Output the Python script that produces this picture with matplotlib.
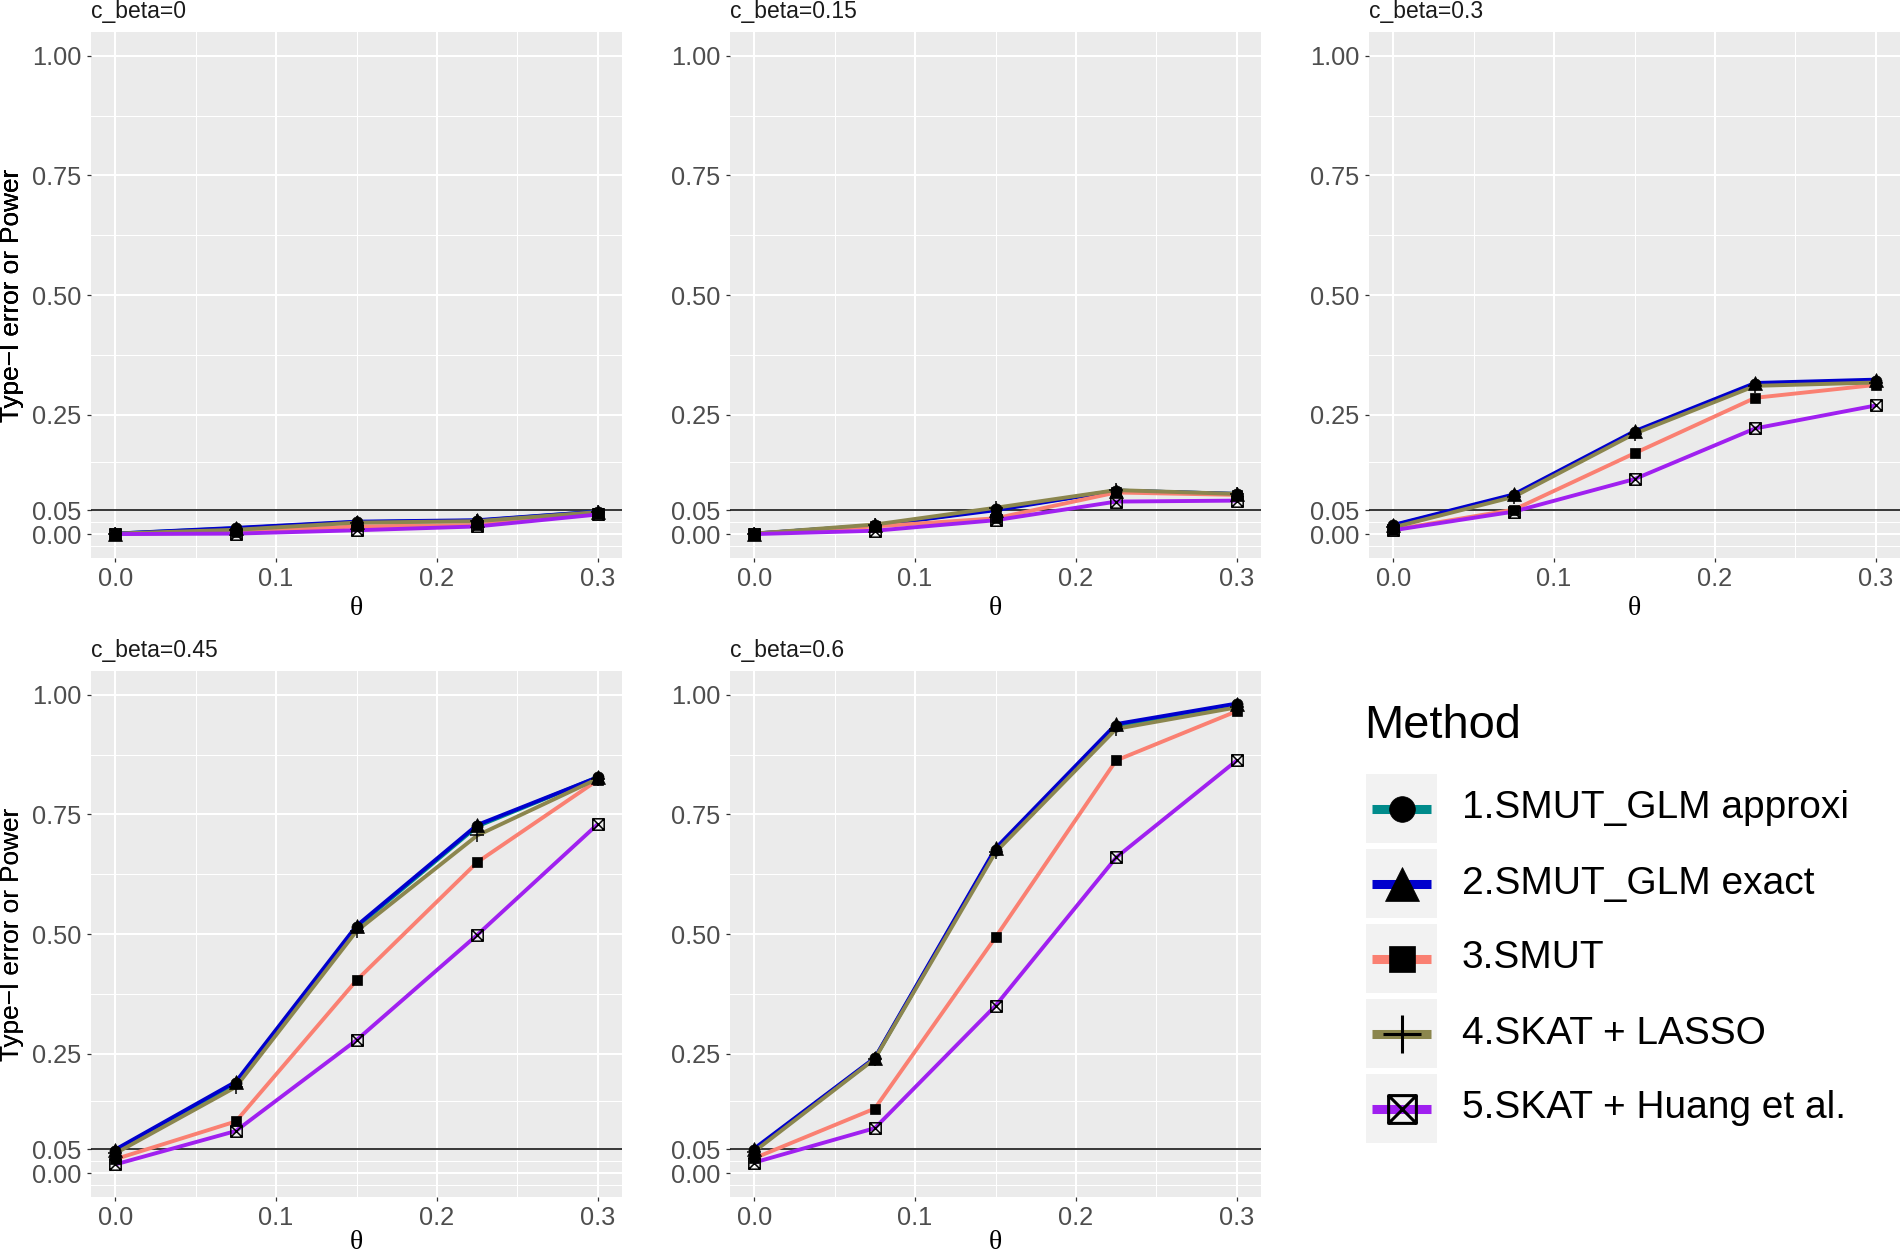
import matplotlib
matplotlib.use('Agg')
import matplotlib.pyplot as plt
from matplotlib.path import Path
from matplotlib.patches import Rectangle
from matplotlib.ticker import FixedLocator

plt.rcParams['font.family'] = ['Liberation Sans', 'DejaVu Sans']

# ---------------- data ----------------
theta = [0.0, 0.075, 0.15, 0.225, 0.3]
panel_titles = ['c_beta=0', 'c_beta=0.15', 'c_beta=0.3', 'c_beta=0.45', 'c_beta=0.6']
method_names = ['1.SMUT_GLM approxi', '2.SMUT_GLM exact', '3.SMUT',
                '4.SKAT + LASSO', '5.SKAT + Huang et al.']
method_colors = ['#008B8B', '#0000CD', '#FA8072', '#8B864E', '#A020F0']

# one row per panel (c_beta = 0, 0.15, 0.3, 0.45, 0.6)
glm_approx = [[0.001, 0.012, 0.025, 0.028, 0.047],
              [0.001, 0.018, 0.052, 0.091, 0.084],
              [0.018, 0.081, 0.213, 0.314, 0.321],
              [0.047, 0.188, 0.514, 0.725, 0.828],
              [0.049, 0.240, 0.676, 0.936, 0.980]]
glm_exact = [[0.001, 0.013, 0.026, 0.029, 0.047],
             [0.001, 0.018, 0.050, 0.091, 0.084],
             [0.019, 0.083, 0.215, 0.316, 0.323],
             [0.049, 0.191, 0.517, 0.728, 0.828],
             [0.051, 0.241, 0.679, 0.939, 0.982]]
smut = [[0.000, 0.004, 0.016, 0.019, 0.044],
        [0.001, 0.016, 0.033, 0.087, 0.082],
        [0.009, 0.051, 0.169, 0.285, 0.312],
        [0.029, 0.108, 0.403, 0.650, 0.822],
        [0.031, 0.135, 0.493, 0.863, 0.966]]
skat_lasso = [[0.001, 0.009, 0.024, 0.027, 0.046],
              [0.001, 0.020, 0.055, 0.092, 0.084],
              [0.014, 0.078, 0.210, 0.310, 0.317],
              [0.041, 0.180, 0.506, 0.706, 0.825],
              [0.045, 0.239, 0.671, 0.929, 0.974]]
skat_huang = [[0.000, 0.001, 0.008, 0.016, 0.041],
              [0.000, 0.007, 0.029, 0.068, 0.070],
              [0.008, 0.047, 0.115, 0.221, 0.269],
              [0.018, 0.088, 0.278, 0.498, 0.730],
              [0.022, 0.094, 0.350, 0.660, 0.863]]

x_ticks = [0.0, 0.1, 0.2, 0.3]
x_ticklabels = ['0.0', '0.1', '0.2', '0.3']
y_ticks = [0.0, 0.05, 0.25, 0.5, 0.75, 1.0]
y_ticklabels = ['0.00', '0.05', '0.25', '0.50', '0.75', '1.00']
x_minor = [0.05, 0.15, 0.25]
y_minor = [-0.025, 0.025, 0.15, 0.375, 0.625, 0.875]
alpha_level = 0.05

all_series = [glm_approx, glm_exact, smut, skat_lasso, skat_huang]

# ---------------- markers ----------------
sqx_path = Path([(-1, -1), (1, -1), (1, 1), (-1, 1), (-1, -1),
                 (-1, -1), (1, 1), (-1, 1), (1, -1)],
                [Path.MOVETO, Path.LINETO, Path.LINETO, Path.LINETO, Path.CLOSEPOLY,
                 Path.MOVETO, Path.LINETO, Path.MOVETO, Path.LINETO])
marker_specs = [
    dict(marker='o', ms=8.0, mfc='black', mec='black', mew=0.5),
    dict(marker='^', ms=9.6, mfc='black', mec='black', mew=0.5),
    dict(marker='s', ms=7.0, mfc='black', mec='black', mew=0.5),
    dict(marker='+', ms=9.6, mfc='black', mec='black', mew=1.1),
    dict(marker=sqx_path, ms=8.2, mfc='none', mec='black', mew=1.1),
]
legend_marker_specs = [
    dict(marker='o', ms=18.5, mfc='black', mec='black', mew=0.5),
    dict(marker='^', ms=25.0, mfc='black', mec='black', mew=0.5),
    dict(marker='s', ms=18.5, mfc='black', mec='black', mew=0.5),
    dict(marker='+', ms=28.0, mfc='black', mec='black', mew=2.2),
    dict(marker=sqx_path, ms=20.0, mfc='none', mec='black', mew=2.2),
]

# ---------------- figure ----------------
W, H = 1900, 1256
fig = plt.figure(figsize=(W / 100, H / 100), dpi=100)
fig.patch.set_facecolor('white')


def px_axes(left, top, w, h):
    return fig.add_axes([left / W, 1 - (top + h) / H, w / W, h / H])


col_left = [91, 730, 1369]
row_top = [32, 671]
pw, ph = 531, 526
positions = [(0, 0), (0, 1), (0, 2), (1, 0), (1, 1)]
theta_baseline = [615, 1249]   # pixel rows of the x-title baseline per panel row

for p, (r, c) in enumerate(positions):
    ax = px_axes(col_left[c], row_top[r], pw, ph)
    ax.set_facecolor('#EBEBEB')
    for s in ax.spines.values():
        s.set_visible(False)
    ax.set_xlim(-0.015, 0.315)
    ax.set_ylim(-0.05, 1.05)
    ax.xaxis.set_major_locator(FixedLocator(x_ticks))
    ax.set_xticklabels(x_ticklabels)
    ax.yaxis.set_major_locator(FixedLocator(y_ticks))
    ax.set_yticklabels(y_ticklabels)
    ax.xaxis.set_minor_locator(FixedLocator(x_minor))
    ax.yaxis.set_minor_locator(FixedLocator(y_minor))
    ax.grid(which='major', color='white', linewidth=1.45)
    ax.grid(which='minor', color='white', linewidth=0.75)
    ax.set_axisbelow(True)
    ax.tick_params(which='major', length=2.9, width=0.9, color='#333333',
                   labelsize=18.3, labelcolor='#4D4D4D')
    ax.tick_params(axis='x', which='major', pad=3.8)
    ax.tick_params(axis='y', which='major', pad=4.0)
    ax.tick_params(which='minor', length=0)

    ax.axhline(alpha_level, color='black', linewidth=1.1, zorder=1.6)

    for m in range(5):
        ax.plot(theta, all_series[m][p], color=method_colors[m], linewidth=2.8,
                solid_capstyle='butt', zorder=2 + m * 0.01)
    for m in range(5):
        spec = marker_specs[m]
        ax.plot(theta, all_series[m][p], linestyle='none', marker=spec['marker'],
                markersize=spec['ms'], markerfacecolor=spec['mfc'],
                markeredgecolor=spec['mec'], markeredgewidth=spec['mew'], zorder=3)

    ax.set_title(panel_titles[p], loc='left', fontsize=16.5, color='#1A1A1A', pad=10)
    ax.text(-(col_left[c] - 12) / pw, 0.5, 'Type\u2212I error or Power',
            transform=ax.transAxes, rotation=90, ha='center', va='center',
            fontsize=18.8, color='black')
    ax.text(0.5, -(theta_baseline[r] - row_top[r] - ph) / ph, '\u03b8',
            transform=ax.transAxes, ha='center', va='baseline', fontsize=20,
            family=['Liberation Serif', 'DejaVu Serif'], color='black')

# ---------------- legend ----------------
leg = fig.add_axes([0, 0, 1, 1], zorder=10)
leg.set_xlim(0, W)
leg.set_ylim(H, 0)
leg.axis('off')
leg.patch.set_alpha(0)

leg.text(1364, 726, 'Method', fontsize=33.8, ha='left', va='center', color='black')
key_left, key_w, key_h, key_top0, key_pitch = 1366, 71, 69, 774, 75
for m in range(5):
    top = key_top0 + m * key_pitch
    cy = top + key_h / 2
    cx = key_left + key_w / 2
    leg.add_patch(Rectangle((key_left, top), key_w, key_h, facecolor='#F2F2F2',
                            edgecolor='none'))
    leg.plot([key_left + 6, key_left + key_w - 6], [cy, cy], color=method_colors[m],
             linewidth=6.5, solid_capstyle='butt')
    spec = legend_marker_specs[m]
    leg.plot([cx], [cy], linestyle='none', marker=spec['marker'], markersize=spec['ms'],
             markerfacecolor=spec['mfc'], markeredgecolor=spec['mec'],
             markeredgewidth=spec['mew'])
    leg.text(1462, cy, method_names[m], fontsize=28.0, ha='left', va='center',
             color='black')

fig.savefig('out.png', dpi=100)
